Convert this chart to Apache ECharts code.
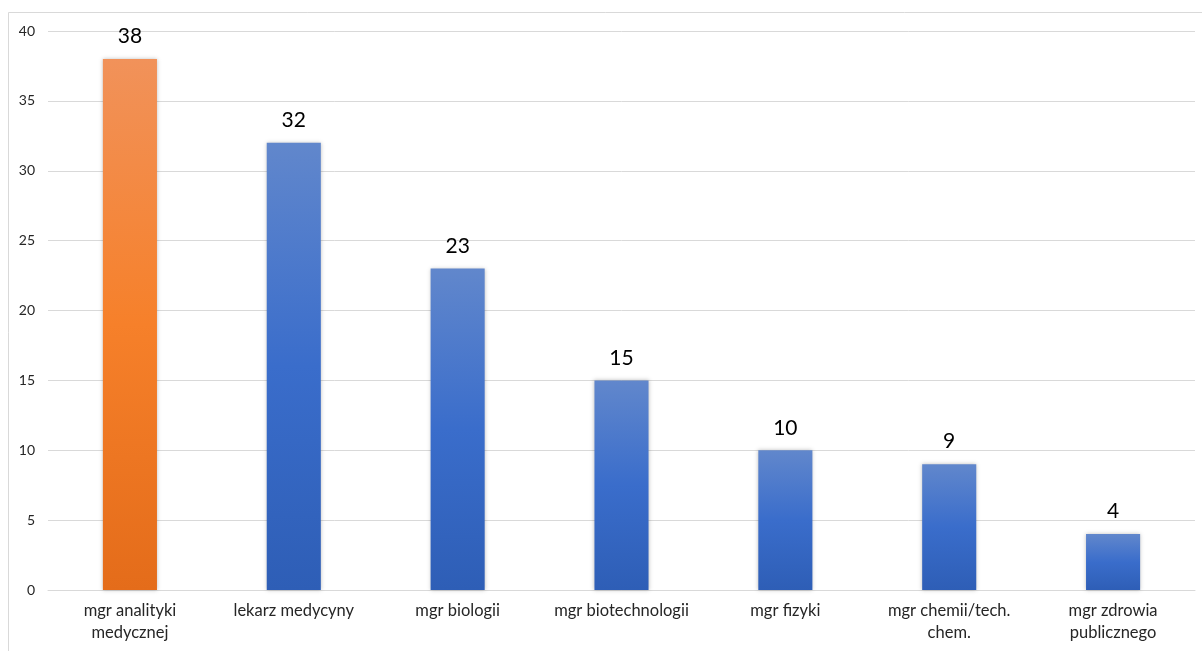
<!DOCTYPE html>
<html>
<head>
<meta charset="utf-8">
<script src="https://cdn.jsdelivr.net/npm/echarts@6/dist/echarts.min.js"></script>
<style>
html,body{margin:0;padding:0;background:#fff;}
#chart{width:1202px;height:651px;}
</style>
</head>
<body>
<div id="chart"></div>
<script>
const categories = [
  'mgr analityki\nmedycznej',
  'lekarz medycyny',
  'mgr biologii',
  'mgr biotechnologii',
  'mgr fizyki',
  'mgr chemii/tech.\nchem.',
  'mgr zdrowia\npublicznego'
];
const values = [38, 32, 23, 15, 10, 9, 4];
const highlightIndex = 0;

const orangeFill = new echarts.graphic.LinearGradient(0, 0, 0, 1, [
  { offset: 0, color: '#F1925A' },
  { offset: 0.5, color: '#F6802A' },
  { offset: 1, color: '#E46C1A' }
]);
const blueFill = new echarts.graphic.LinearGradient(0, 0, 0, 1, [
  { offset: 0, color: '#6187CC' },
  { offset: 0.5, color: '#3A6DCB' },
  { offset: 1, color: '#2E5EB6' }
]);

const chart = echarts.init(document.getElementById('chart'));
chart.setOption({
  animation: false,
  backgroundColor: '#fff',
  textStyle: { fontFamily: 'Lato, "Open Sans", sans-serif' },
  graphic: [{
    type: 'rect',
    shape: { x: 8.5, y: 12.5, width: 1300, height: 800 },
    style: { fill: 'none', stroke: '#d9d9d9', lineWidth: 1 },
    silent: true,
    z: -1
  }],
  grid: { left: 48, right: 7, top: 31, bottom: 61 },
  xAxis: {
    type: 'category',
    data: categories,
    axisLine: { show: true, lineStyle: { color: '#d9d9d9', width: 1 } },
    axisTick: { show: false },
    axisLabel: {
      color: '#262626',
      fontSize: 16.5,
      lineHeight: 22,
      margin: 10,
      interval: 0
    }
  },
  yAxis: {
    type: 'value',
    min: 0,
    max: 40,
    interval: 5,
    axisLine: { show: false },
    axisTick: { show: false },
    axisLabel: { color: '#262626', fontSize: 14, margin: 13 },
    splitLine: { lineStyle: { color: '#d9d9d9', width: 1 } }
  },
  series: [{
    type: 'bar',
    barWidth: '33%',
    data: values.map((v, i) => ({
      value: v,
      itemStyle: { color: i === highlightIndex ? orangeFill : blueFill }
    })),
    itemStyle: {
      shadowBlur: 4,
      shadowColor: 'rgba(0,0,0,0.25)',
      shadowOffsetX: 0,
      shadowOffsetY: 0
    },
    label: {
      show: true,
      position: 'top',
      distance: 12,
      color: '#000',
      fontSize: 21
    }
  }]
});
</script>
</body>
</html>
